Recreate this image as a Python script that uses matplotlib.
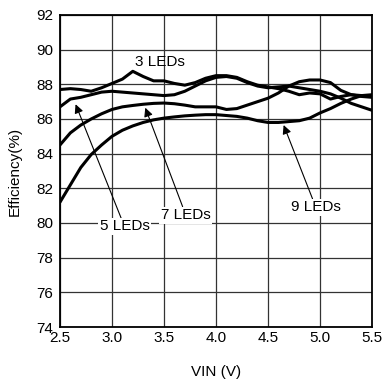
import matplotlib
matplotlib.use("Agg")
import matplotlib.pyplot as plt

plt.rcParams['font.family'] = ['Liberation Sans', 'DejaVu Sans']

vin = [2.5, 2.6, 2.7, 2.8, 2.9, 3.0, 3.1, 3.2, 3.3, 3.4, 3.5, 3.6, 3.7, 3.8, 3.9, 4.0,
       4.1, 4.2, 4.3, 4.4, 4.5, 4.6, 4.7, 4.8, 4.9, 5.0, 5.1, 5.2, 5.3, 5.4, 5.5]

eff_3led = [87.7, 87.75, 87.7, 87.6, 87.8, 88.05, 88.3, 88.75, 88.45, 88.2, 88.2, 88.05, 87.95,
            88.1, 88.35, 88.5, 88.5, 88.4, 88.15, 87.95, 87.85, 87.75, 87.6, 87.4, 87.5, 87.45,
            87.15, 87.3, 87.4, 87.3, 87.25]
eff_5led = [86.7, 87.15, 87.25, 87.4, 87.55, 87.6, 87.55, 87.5, 87.45, 87.4, 87.35, 87.4, 87.6,
            87.9, 88.2, 88.4, 88.45, 88.35, 88.1, 87.9, 87.8, 87.85, 87.9, 87.8, 87.7, 87.6,
            87.45, 87.2, 86.9, 86.7, 86.5]
eff_7led = [84.5, 85.2, 85.65, 86.0, 86.3, 86.55, 86.7, 86.78, 86.85, 86.9, 86.92, 86.88, 86.8,
            86.7, 86.7, 86.7, 86.55, 86.6, 86.8, 87.0, 87.2, 87.5, 87.9, 88.15, 88.25, 88.25,
            88.1, 87.65, 87.4, 87.35, 87.3]
eff_9led = [81.2, 82.2, 83.2, 83.95, 84.5, 85.0, 85.35, 85.6, 85.8, 85.95, 86.05, 86.12, 86.18,
            86.22, 86.25, 86.25, 86.2, 86.15, 86.05, 85.9, 85.8, 85.8, 85.85, 85.9, 86.05, 86.35,
            86.6, 86.9, 87.15, 87.35, 87.4]

x_ticks = [2.5, 3.0, 3.5, 4.0, 4.5, 5.0, 5.5]
y_ticks = [74, 76, 78, 80, 82, 84, 86, 88, 90, 92]

FS = 11

fig = plt.figure(figsize=(3.82, 3.81), dpi=100)
ax = fig.add_axes([0.157, 0.1417, 0.817, 0.819])

for s in (eff_3led, eff_5led, eff_7led, eff_9led):
    ax.plot(vin, s, color='black', lw=2.2, solid_capstyle='round', zorder=3)

ax.set_xlim(2.5, 5.5)
ax.set_ylim(74, 92)
ax.set_xticks(x_ticks)
ax.set_xticklabels([f"{v:.1f}" for v in x_ticks])
ax.set_yticks(y_ticks)
ax.grid(True, color='#333333', lw=0.9, zorder=1)
ax.set_axisbelow(True)
ax.tick_params(length=0, labelsize=FS, pad=3)
ax.tick_params(axis='y', pad=5)
for sp in ax.spines.values():
    sp.set_linewidth(1.3)
    sp.set_zorder(4)

ax.set_xlabel("VIN (V)", fontsize=FS, labelpad=14)
ax.set_ylabel("Efficiency(%)", fontsize=FS, labelpad=10)

bbox = dict(boxstyle='square,pad=0.1', fc='white', ec='none')
arrow = dict(arrowstyle='-|>', color='black', lw=0.8, mutation_scale=13, shrinkA=0, shrinkB=0)

ax.text(3.46, 89.3, "3 LEDs", ha='center', va='center', fontsize=FS, zorder=5)
ax.annotate("5 LEDs", xy=(2.65, 86.85), xytext=(3.12, 79.8), ha='center', va='center',
            fontsize=FS, bbox=bbox, arrowprops=arrow, zorder=5)
ax.annotate("7 LEDs", xy=(3.32, 86.65), xytext=(3.71, 80.45), ha='center', va='center',
            fontsize=FS, bbox=bbox, arrowprops=arrow, zorder=5)
ax.annotate("9 LEDs", xy=(4.65, 85.65), xytext=(4.96, 80.9), ha='center', va='center',
            fontsize=FS, bbox=bbox, arrowprops=arrow, zorder=5)

fig.savefig("out.png", dpi=100)
